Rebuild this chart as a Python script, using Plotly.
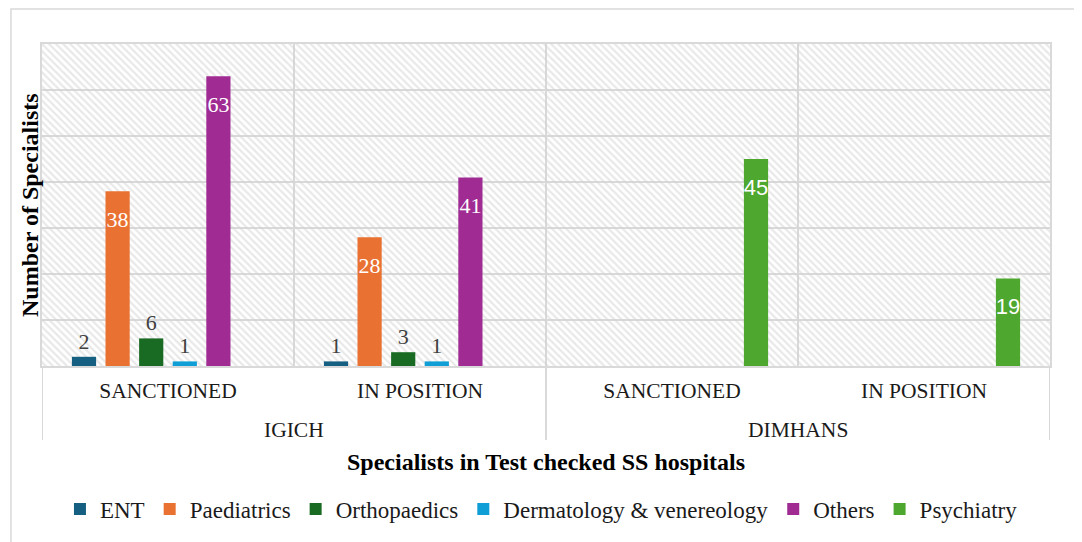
import plotly.graph_objects as go

# ---- data ----
hospitals = ["IGICH", "IGICH", "DIMHANS", "DIMHANS"]
status = ["SANCTIONED", "IN POSITION", "SANCTIONED", "IN POSITION"]
ent = [2, 1, None, None]
paediatrics = [38, 28, None, None]
orthopaedics = [6, 3, None, None]
dermatology = [1, 1, None, None]
others = [63, 41, None, None]
psychiatry = [None, None, 45, 19]

series_names = ["ENT", "Paediatrics", "Orthopaedics", "Dermatology & venereology",
                "Others", "Psychiatry"]
series_values = [ent, paediatrics, orthopaedics, dermatology, others, psychiatry]
series_colors = ["#156082", "#E97132", "#196B24", "#0F9ED5", "#A02B93", "#4EA72E"]
label_inside = [False, True, False, False, True, True]

Y_MAX = 70
SERIF = "Liberation Serif, Times New Roman, serif"
SANS = "Liberation Sans, Arial, sans-serif"
GRID = "#d9d9d9"

idx = list(range(len(status)))
boundaries = [i - 0.5 for i in idx] + [len(idx) - 0.5]
# group (hospital) spans along the category index
groups = []
for i, h in enumerate(hospitals):
    if not groups or groups[-1][0] != h:
        groups.append([h, i, i])
    else:
        groups[-1][2] = i
group_edges = sorted({g[1] - 0.5 for g in groups} | {g[2] + 0.5 for g in groups})

fig = go.Figure()

# hatched plot background (decorative, spans the whole plot area)
fig.add_trace(go.Bar(
    x=[0.5], y=[Y_MAX], width=[1], xaxis="x", yaxis="y",
    marker=dict(color="rgba(0,0,0,0)", line=dict(width=0),
                pattern=dict(shape="\\", fgcolor="#d2d2d2", bgcolor="rgba(0,0,0,0)",
                             size=5, solidity=0.45)),
    showlegend=False, hoverinfo="skip",
))

# a tiny spacer line pushes inside labels a little below the bar top
SPACER = "<span style='font-size:4px'>&nbsp;</span><br>"

for name, vals, col, inside in zip(series_names, series_values, series_colors, label_inside):
    if inside:
        txt = ["" if v is None else SPACER + str(v) for v in vals]
        fnt = dict(family=SANS if name == "Psychiatry" else SERIF, size=22, color="white")
        pos = "inside"
    else:
        txt = ["" if v is None else str(v) for v in vals]
        fnt = dict(family=SERIF, size=22, color="#404040")
        pos = "outside"
    fig.add_trace(go.Bar(
        name=name, x=idx, y=vals, xaxis="x2", yaxis="y",
        marker=dict(color=col, line=dict(width=0)),
        text=txt, textposition=pos, insidetextanchor="end", textangle=0,
        textfont=fnt, cliponaxis=False,
    ))

annotations = [
    dict(text="<b>Number of Specialists</b>", xref="paper", yref="paper",
         x=-0.0119, y=0.5, xanchor="center", yanchor="middle", textangle=-90,
         showarrow=False, font=dict(family=SERIF, size=24, color="#000")),
    dict(text="<b>Specialists in Test checked SS hospitals</b>", xref="paper",
         yref="paper", x=0.5, y=-0.298, xanchor="center", yanchor="middle",
         showarrow=False, font=dict(family=SERIF, size=24, color="#000")),
]
for h, a, b in groups:
    annotations.append(dict(text=h, xref="x2", yref="paper", x=(a + b) / 2, y=-0.1988,
                            xanchor="center", yanchor="middle", showarrow=False,
                            font=dict(family=SERIF, size=21.5, color="#1a1a1a")))

shapes = [
    dict(type="rect", xref="paper", yref="paper", x0=-0.0308, x1=1.0298,
         y0=-0.6, y1=1.1087, line=dict(color=GRID, width=1.5), layer="below"),
]
for e in group_edges:
    shapes.append(dict(type="line", xref="x2", yref="paper", x0=e, x1=e, y0=0, y1=-0.2298,
                       line=dict(color=GRID, width=2), layer="below"))

fig.update_layout(
    width=1074, height=534,
    margin=dict(l=34, r=32, t=36, b=176),
    paper_bgcolor="white", plot_bgcolor="white",
    barmode="group", bargap=0.2, bargroupgap=0.28,
    uniformtext=dict(mode="show", minsize=22),
    font=dict(family=SERIF, color="#1a1a1a"),
    xaxis=dict(range=[0, 1], visible=False, fixedrange=True),
    xaxis2=dict(overlaying="x", side="bottom", anchor="y",
                range=[boundaries[0], boundaries[-1]],
                tickmode="array", tickvals=idx, ticktext=status,
                showgrid=False, zeroline=False,
                minor=dict(tickmode="array", tickvals=boundaries, showgrid=True,
                           gridcolor=GRID, gridwidth=2, ticks=""),
                showline=True, linecolor=GRID, linewidth=2, mirror=True,
                ticks="", ticklabelstandoff=4,
                tickfont=dict(family=SERIF, size=21.5, color="#1a1a1a")),
    yaxis=dict(range=[0, Y_MAX], dtick=10, showgrid=True, gridcolor=GRID, gridwidth=2,
               showticklabels=False, zeroline=False, showline=True, linecolor=GRID,
               linewidth=2, mirror=True),
    legend=dict(orientation="h", x=0.4955, xanchor="center", y=-0.444, yanchor="middle",
                font=dict(family=SERIF, size=23, color="#1a1a1a"),
                itemwidth=30, traceorder="normal"),
    showlegend=True,
    annotations=annotations,
    shapes=shapes,
)

fig.write_html("out.html")
